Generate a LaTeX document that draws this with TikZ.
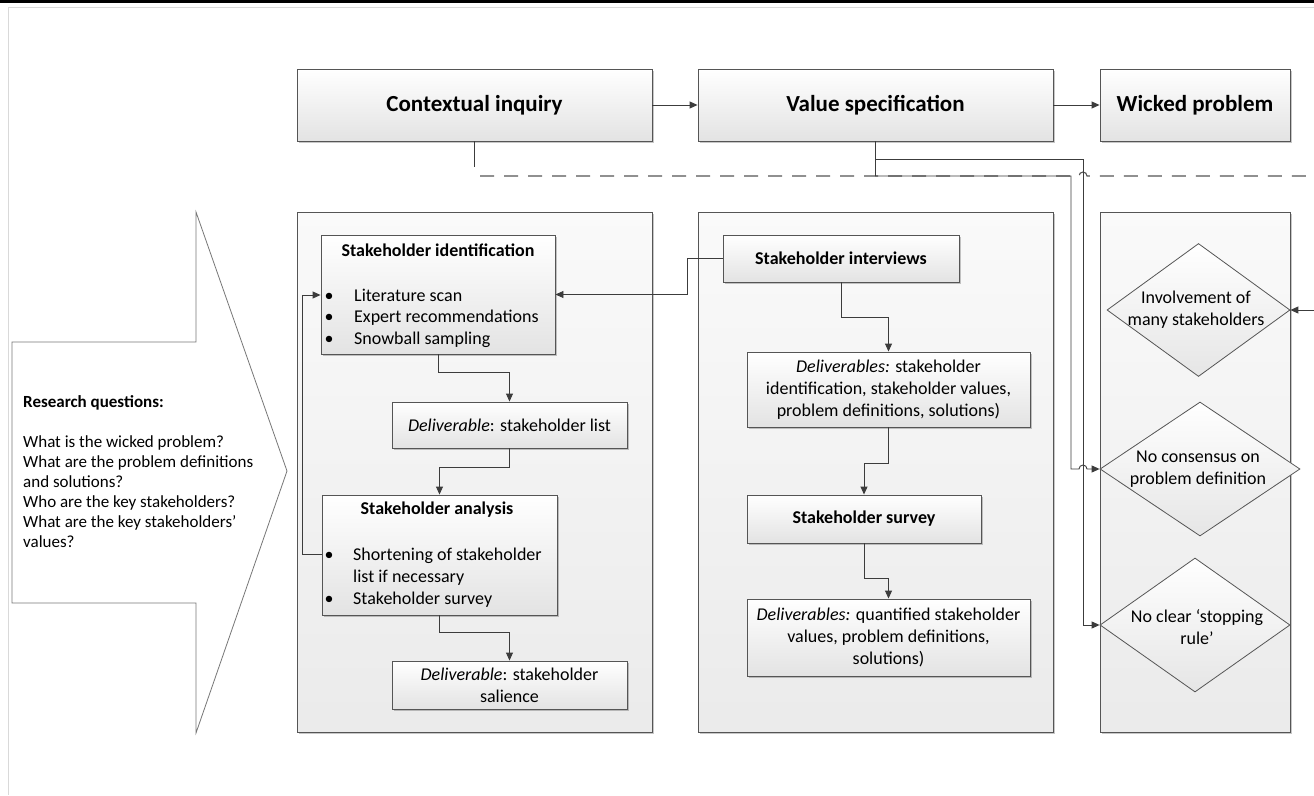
\documentclass[tikz,border=0pt]{standalone}
\usepackage{fontspec}
\setmainfont{Carlito}
\usetikzlibrary{arrows.meta,shadows,shapes.geometric}
\definecolor{ln}{HTML}{3C3C3C}
\definecolor{bd}{HTML}{555555}
\tikzset{
  x=1pt, y=-1pt,
  txt/.style={inner sep=0pt, font=\fontsize{18}{22}\selectfont},
  ttl/.style={inner sep=0pt, font=\fontsize{18}{22}\selectfont\bfseries},
  big/.style={inner sep=0pt, font=\fontsize{23}{28}\selectfont\bfseries},
  line/.style={inner sep=0pt, font=\fontsize{18}{22}\selectfont, anchor=west, text height=12pt, text depth=0pt},
  bul/.style={inner sep=0pt, font=\fontsize{18}{22}\selectfont, text height=12pt, text depth=0pt},
  shd/.style={drop shadow={shadow xshift=1.5pt, shadow yshift=-1.5pt, opacity=0.22, fill=black}},
  box/.style={rectangle, draw=bd, line width=0.9pt, top color=white, bottom color=black!11, inner sep=0pt, shd},
  col/.style={rectangle, draw=bd, line width=0.9pt, top color=black!2, bottom color=black!8, inner sep=0pt, shd},
  dia/.style={diamond, draw=bd, line width=0.8pt, top color=white, bottom color=black!10, inner sep=0pt, aspect=1},
  con/.style={draw=ln, line width=0.9pt},
  arr/.style={con, -{Triangle[length=8pt,width=7pt]}},
  sep/.style={draw=bd, line width=1.1pt, dash pattern=on 14pt off 10pt}
}
\begin{document}
\begin{tikzpicture}
\useasboundingbox (0,0) rectangle (1314,795);
\fill[white] (0,0) rectangle (1314,795);
% page frame
\draw[black, line width=3pt] (0,1.5) -- (1314,1.5);
\draw[black!15, line width=1pt] (8,7) -- (1314,7);
\draw[black!15, line width=1pt] (8,7) -- (8,795);

% big block arrow with research questions
\draw[draw=bd!80, line width=0.8pt, fill=white] (12,342) -- (196,342) -- (196,212) -- (287,471) -- (196,733) -- (196,603) -- (12,603) -- cycle;
\node[anchor=north west, inner sep=0pt, align=left, font=\fontsize{17}{20}\selectfont] (rq) at (23,395)
  {\textbf{Research questions:}\\[20pt]
   What is the wicked problem?\\
   What are the problem definitions\\
   and solutions?\\
   Who are the key stakeholders?\\
   What are the key stakeholders'\\
   values?};

% top row
\node[box, minimum width=355pt, minimum height=72pt] (ci) at (474.5,105) {};
\node[big] (cit) at (ci) {Contextual inquiry};
\node[box, minimum width=355pt, minimum height=72pt] (vs) at (875.5,105) {};
\node[big] (vst) at (vs) {Value specification};
\node[box, minimum width=190pt, minimum height=72pt] (wp) at (1195,105) {};
\node[big] (wpt) at (wp) {Wicked problem};
\draw[arr] (ci.east) -- (vs.west);
\draw[arr] (vs.east) -- (wp.west);

% columns
\node[col, minimum width=355pt, minimum height=520pt] (colL) at (474.5,472) {};
\node[col, minimum width=355pt, minimum height=520pt] (colM) at (875.5,472) {};
\node[col, minimum width=190pt, minimum height=520pt] (colR) at (1195,472) {};

% left column
\node[box, minimum width=234pt, minimum height=119pt] (sid) at (438,294.5) {};
\node[ttl] (sidt) at (438,250) {Stakeholder identification};
\node[bul] (b11) at (329,295) {•};
\node[line] (t11) at (354,295) {Literature scan};
\node[bul] (b12) at (329,316.5) {•};
\node[line] (t12) at (354,316.5) {Expert recommendations};
\node[bul] (b13) at (329,338) {•};
\node[line] (t13) at (354,338) {Snowball sampling};

\node[box, minimum width=235pt, minimum height=46pt] (dlist) at (509.5,425) {};
\node[txt] (dlistt) at (dlist) {\textit{Deliverable}: stakeholder list};

\node[box, minimum width=235pt, minimum height=120pt] (sana) at (439.5,555) {};
\node[ttl] (sanat) at (437,510) {Stakeholder analysis};
\node[bul] (b21) at (329,554) {•};
\node[line] (t21) at (353,554) {Shortening of stakeholder};
\node[line] (t22) at (353,576) {list if necessary};
\node[bul] (b23) at (329,598) {•};
\node[line] (t23) at (353,598) {Stakeholder survey};

\node[box, minimum width=235pt, minimum height=48pt] (dsal) at (509.5,685) {};
\node[txt, align=center] (dsalt) at (dsal) {\textit{Deliverable}: stakeholder\\salience};

\draw[arr] (sid.south) -- ++(0,18) -| (dlist.north);
\draw[arr] (dlist.south) -- ++(0,19) -| (sana.north);
\draw[arr] (sana.south) -- ++(0,17) -| (dsal.north);
\draw[arr] (sana.west |- b21) -- ++(-19,0) |- (sid.west |- b11);

% middle column
\node[box, minimum width=236pt, minimum height=47pt] (sint) at (841,258.5) {};
\node[ttl] (sintt) at (sint) {Stakeholder interviews};
\node[box, minimum width=283pt, minimum height=75pt] (del1) at (888.5,389.5) {};
\node[txt, align=center] (del1t) at (del1) {\textit{Deliverables:} stakeholder\\identification, stakeholder values,\\problem definitions, solutions)};
\node[box, minimum width=234pt, minimum height=48pt] (ssur) at (864,519) {};
\node[ttl] (ssurt) at (ssur) {Stakeholder survey};
\node[box, minimum width=283pt, minimum height=77pt] (del2) at (888.5,637.5) {};
\node[txt, align=center] (del2t) at (del2) {\textit{Deliverables:} quantified stakeholder\\values, problem definitions,\\solutions)};

\draw[arr] (sint.south) -- ++(0,35) -| (del1.north);
\draw[arr] (del1.south) -- ++(0,36) -| (ssur.north);
\draw[arr] (ssur.south) -- ++(0,35) -| (del2.north);
\draw[arr] (sint.west) -- ++(-35,0) |- (sid.east);

% right column diamonds
\node[dia, minimum width=183pt, minimum height=133pt] (d1) at (1198.5,310) {};
\node[txt, align=center] (d1t) at (1196,310) {Involvement of\\many stakeholders};
\node[dia, minimum width=200pt, minimum height=134pt] (d2) at (1200,469) {};
\node[txt, align=center] (d2t) at (1198,469) {No consensus on\\problem definition};
\node[dia, minimum width=190pt, minimum height=134pt] (d3) at (1195,625) {};
\node[txt, align=center] (d3t) at (1197,627) {No clear `stopping\\rule'};

\coordinate (rin) at (1314,310);
\draw[arr] (rin) -- (d1.east);

% separator dashed line with hop
\coordinate (dl) at (480,176);
\coordinate (dr) at (1314,176);
\coordinate (hop) at (1079,176);
\draw[sep] (dl) -- (hop) arc[start angle=180, end angle=0, radius=4pt] -- (dr);

% contextual inquiry stub
\draw[con] (ci.south) -- ++(0,26);

% value specification links
\coordinate (j1) at (1071,176);
\coordinate (j2) at (1083,159);
\draw[arr] (vs.south) |- (j2) -- (j2 |- d3.west) -- (d3.west);
\coordinate (k1) at (1079,469);
\draw[arr] (vs.south) |- (j1) -- (j1 |- d2.west) -- (k1) arc[start angle=180, end angle=0, radius=4pt] -- (d2.west);
\end{tikzpicture}
\end{document}
